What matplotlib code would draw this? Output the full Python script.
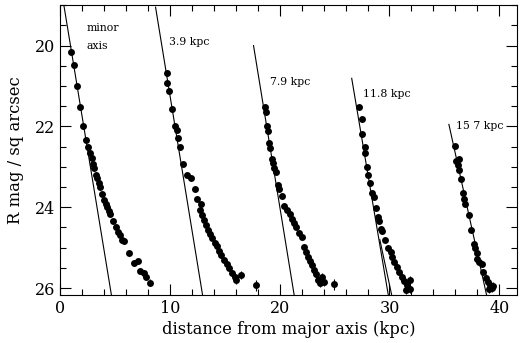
import matplotlib
matplotlib.use("Agg")
import matplotlib.pyplot as plt
from matplotlib.ticker import MultipleLocator

# profiles: distance from major axis (kpc) and R surface brightness
x_minor = [1.02, 1.25, 1.53, 1.80, 2.11, 2.41, 2.59, 2.77, 2.89, 3.02, 3.14, 3.26, 3.38,
           3.56, 3.68, 3.86, 4.05, 4.17, 4.29, 4.44, 4.59, 4.80, 5.14, 5.26, 5.44, 5.65,
           5.86, 6.29, 6.71, 7.07, 7.25, 7.62, 7.80, 8.16]
mu_minor = [20.15, 20.47, 20.99, 21.51, 21.98, 22.33, 22.51, 22.67, 22.77, 22.92, 23.02, 23.19,
            23.27, 23.41, 23.50, 23.68, 23.81, 23.91, 23.99, 24.09, 24.16, 24.34, 24.50, 24.60,
            24.68, 24.80, 24.84, 25.14, 25.37, 25.33, 25.57, 25.62, 25.72, 25.87]
err_minor = [0.01, 0.01, 0.01, 0.01, 0.01, 0.01, 0.01, 0.01, 0.01, 0.01, 0.01, 0.01, 0.02,
             0.02, 0.02, 0.02, 0.02, 0.02, 0.02, 0.02, 0.02, 0.03, 0.03, 0.03, 0.03, 0.03,
             0.03, 0.04, 0.05, 0.05, 0.06, 0.06, 0.07, 0.09]

x_39 = [9.71, 9.77, 9.95, 10.20, 10.50, 10.62, 10.75, 10.89, 11.23, 11.53, 11.95, 12.25, 12.50,
        12.86, 12.75, 12.93, 13.11, 13.29, 13.47, 13.65, 13.84, 14.07, 14.25, 14.44, 14.68,
        14.93, 15.16, 15.41, 15.65, 15.89, 16.07, 16.50, 17.84]
mu_39 = [20.68, 20.93, 21.13, 21.57, 22.00, 22.10, 22.28, 22.51, 22.92, 23.21, 23.27, 23.54,
         23.79, 23.93, 24.06, 24.20, 24.32, 24.44, 24.57, 24.67, 24.77, 24.88, 24.96, 25.08,
         25.19, 25.31, 25.41, 25.51, 25.62, 25.72, 25.80, 25.68, 25.93]
err_39 = [0.01, 0.01, 0.01, 0.01, 0.01, 0.01, 0.01, 0.01, 0.02, 0.02, 0.02, 0.02, 0.02, 0.02,
          0.03, 0.03, 0.03, 0.03, 0.04, 0.04, 0.04, 0.05, 0.05, 0.05, 0.06, 0.06, 0.07, 0.07,
          0.08, 0.08, 0.10, 0.10, 0.14]

x_79 = [18.62, 18.80, 18.86, 18.93, 19.05, 19.16, 19.29, 19.41, 19.53, 19.65, 19.84, 19.95,
        20.20, 20.44, 20.68, 20.93, 21.16, 21.35, 21.53, 21.77, 22.02, 22.20, 22.38, 22.56,
        22.74, 22.93, 23.11, 23.29, 23.53, 23.84, 24.02, 23.71, 24.93]
mu_79 = [21.52, 21.65, 21.98, 22.12, 22.41, 22.53, 22.80, 22.91, 23.02, 23.14, 23.46, 23.56,
         23.73, 23.98, 24.06, 24.17, 24.28, 24.39, 24.49, 24.63, 24.73, 24.98, 25.10, 25.23,
         25.33, 25.43, 25.54, 25.65, 25.79, 25.72, 25.84, 25.87, 25.91]
err_79 = [0.02, 0.02, 0.02, 0.02, 0.02, 0.02, 0.02, 0.02, 0.03, 0.03, 0.03, 0.03, 0.03, 0.04,
          0.04, 0.04, 0.04, 0.05, 0.05, 0.05, 0.05, 0.06, 0.06, 0.07, 0.07, 0.07, 0.08, 0.08,
          0.09, 0.10, 0.10, 0.10, 0.14]

x_118 = [27.23, 27.47, 27.47, 27.77, 27.77, 27.95, 28.07, 28.25, 28.38, 28.56, 28.75, 28.93,
         29.05, 29.23, 29.35, 29.59, 29.84, 30.14, 30.25, 30.44, 30.65, 30.86, 31.11, 31.35,
         31.59, 31.84, 31.47, 31.89]
mu_118 = [21.52, 21.81, 22.18, 22.51, 22.67, 23.00, 23.21, 23.39, 23.64, 23.75, 24.02, 24.24,
          24.35, 24.54, 24.59, 24.81, 25.00, 25.10, 25.23, 25.35, 25.47, 25.60, 25.72, 25.83,
          25.93, 26.01, 26.05, 25.80]
err_118 = [0.02, 0.02, 0.02, 0.02, 0.02, 0.03, 0.03, 0.03, 0.03, 0.03, 0.04, 0.04, 0.04, 0.05,
           0.05, 0.05, 0.06, 0.06, 0.07, 0.07, 0.08, 0.08, 0.09, 0.09, 0.10, 0.10, 0.10, 0.09]

x_157 = [35.95, 36.10, 36.23, 36.29, 36.35, 36.47, 36.65, 36.77, 36.89, 37.20, 37.44, 37.68,
         37.80, 37.93, 37.98, 38.16, 38.41, 38.53, 38.77, 38.95, 39.14, 39.32, 39.44, 39.07]
mu_157 = [22.49, 22.85, 22.96, 22.81, 23.09, 23.31, 23.64, 23.80, 23.91, 24.20, 24.57, 24.90,
          25.02, 25.12, 25.28, 25.35, 25.41, 25.60, 25.74, 25.84, 25.93, 25.99, 25.94, 26.02]
err_157 = [0.03, 0.03, 0.03, 0.03, 0.03, 0.03, 0.04, 0.04, 0.04, 0.04, 0.05, 0.05, 0.06, 0.06,
           0.06, 0.07, 0.07, 0.08, 0.08, 0.09, 0.09, 0.10, 0.10, 0.10]

# exponential fits (end points)
fit_x = [[0.35, 4.68], [8.70, 12.98], [17.62, 21.32], [26.56, 29.89], [29.12, 30.20], [35.41, 38.84]]
fit_mu = [[19.0, 26.17], [19.05, 26.17], [20.0, 26.17], [20.81, 26.17], [24.80, 26.17], [21.95, 26.17]]

labels = ["minor", "axis", "3.9 kpc", "7.9 kpc", "11.8 kpc", "15 7 kpc"]
label_x = [2.4, 2.4, 9.9, 19.1, 27.6, 36.1]
label_mu = [19.56, 20.02, 19.92, 20.89, 21.19, 21.98]

plt.rcParams["font.family"] = ["DejaVu Serif"]

fig = plt.figure(figsize=(5.2, 3.43), dpi=100)
ax = fig.add_axes([0.1154, 0.140, 0.8786, 0.845])

profiles = [(x_minor, mu_minor, err_minor), (x_39, mu_39, err_39), (x_79, mu_79, err_79),
            (x_118, mu_118, err_118), (x_157, mu_157, err_157)]
for xs, mus, errs in profiles:
    ax.errorbar(xs, mus, yerr=errs, fmt="o", color="black", ms=5.0, mew=0,
                elinewidth=0.8, capsize=2, capthick=0.8)

for fx, fm in zip(fit_x, fit_mu):
    ax.plot(fx, fm, color="black", lw=0.8)

for t, tx, ty in zip(labels, label_x, label_mu):
    ax.text(tx, ty, t, fontsize=7.8, ha="left", va="center")

ax.set_xlim(0, 41.6)
ax.set_ylim(26.17, 19.0)
ax.xaxis.set_major_locator(MultipleLocator(10))
ax.xaxis.set_minor_locator(MultipleLocator(2))
ax.yaxis.set_major_locator(MultipleLocator(2))
ax.yaxis.set_minor_locator(MultipleLocator(0.5))
ax.tick_params(which="both", direction="in", top=True, right=True, labelsize=11.5, width=0.8)
ax.tick_params(which="major", length=8)
ax.tick_params(which="minor", length=4)
for s in ax.spines.values():
    s.set_linewidth(0.8)

ax.set_xlabel("distance from major axis (kpc)", fontsize=11.8, labelpad=3)
ax.set_ylabel("R mag / sq arcsec", fontsize=11.8, labelpad=8)

fig.savefig("out.png", dpi=100)
